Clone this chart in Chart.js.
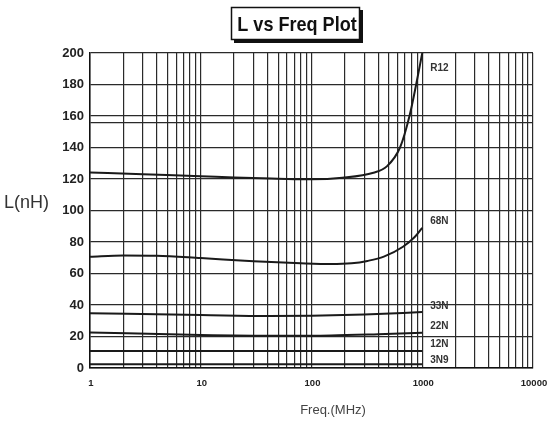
<!DOCTYPE html>
<html>
<head>
<meta charset="utf-8">
<script src="https://cdn.jsdelivr.net/npm/chart.js@4.4.1/dist/chart.umd.min.js"></script>
<style>
    html, body { margin: 0; padding: 0; background: #fff; }
    #wrap { width: 547px; height: 421px; }
</style>
</head>
<body>
<div id="wrap"><canvas id="chart" width="547" height="421"></canvas></div>
<script>
// Values (frequency in MHz, inductance in nH).
const FREQ_R12 = [1, 3, 10, 20, 50, 100, 190, 363, 479, 630, 767, 881, 1000];
const L_R12 = [124.2, 123, 121.8, 120.9, 120.2, 119.8, 120.8, 124, 128, 140, 160, 180, 200];

const FREQ_68N = [1, 2, 4, 10, 30, 80, 150, 230, 320, 450, 670, 850, 1000];
const L_68N = [70.7, 71.5, 71.3, 69.8, 67.8, 66.5, 66, 66.5, 68, 70.7, 77, 83, 89];

const FREQ_33N = [1, 10, 40, 100, 300, 1000];
const L_33N = [34.7, 33.7, 33, 33.2, 34, 35.5];

const FREQ_22N = [1, 10, 50, 150, 400, 1000];
const L_22N = [22.6, 21, 20.5, 20.7, 21.5, 22.4];

const FREQ_12N = [1, 1000];
const L_12N = [10.8, 10.8];

const FREQ_3N9 = [1, 1000];
const L_3N9 = [2.4, 2.4];

const SERIES_NAMES = ['R12', '68N', '33N', '22N', '12N', '3N9'];
const SERIES_LABEL_L = [190.5, 92.9, 38.9, 26.7, 15.2, 5.1];   // where each tag sits, in nH

const X_LABELS = [1, 10, 100, 1000, 10000];
const Y_LABELS = [0, 20, 40, 60, 80, 100, 120, 140, 160, 180, 200];
const Y_EXTRA_GRID = [156];   // stray ruling on the original sheet

// log paper rulings: 1..9 in every decade, then the closing 10000
const X_GRID = [];
for (let d = 1; d < 10000; d *= 10) {
    for (let m = 1; m < 10; m++) X_GRID.push(d * m);
}
X_GRID.push(10000);

function pts(xs, ys) {
    return xs.map((x, i) => ({ x, y: ys[i] }));
}

const curves = [
    pts(FREQ_R12, L_R12), pts(FREQ_68N, L_68N), pts(FREQ_33N, L_33N),
    pts(FREQ_22N, L_22N), pts(FREQ_12N, L_12N), pts(FREQ_3N9, L_3N9),
];

const FONT = '"Liberation Sans", Arial, sans-serif';

// Title box, free-standing axis titles and the curve tags.
const decorations = {
    id: 'decorations',
    afterDraw(chart) {
        const ctx = chart.ctx;
        const xs = chart.scales.x, ys = chart.scales.y;
        ctx.save();

        // title box with drop shadow
        ctx.fillStyle = '#111';
        ctx.fillRect(234, 10, 129, 33);
        ctx.fillStyle = '#fff';
        ctx.fillRect(231, 7, 129, 33);
        ctx.strokeStyle = '#111';
        ctx.lineWidth = 1.5;
        ctx.strokeRect(231.5, 7.5, 128, 32);

        ctx.save();
        ctx.translate(297, 25);
        ctx.scale(0.86, 1);
        ctx.fillStyle = '#111';
        ctx.font = 'bold 21px ' + FONT;
        ctx.textAlign = 'center';
        ctx.textBaseline = 'middle';
        ctx.fillText('L vs Freq Plot', 0, 0);
        ctx.restore();

        // y title, horizontal
        ctx.fillStyle = '#333';
        ctx.font = '18px ' + FONT;
        ctx.textAlign = 'left';
        ctx.textBaseline = 'middle';
        ctx.fillText('L(nH)', 4, 203);

        // x title
        ctx.fillStyle = '#444';
        ctx.font = '13px ' + FONT;
        ctx.textAlign = 'center';
        ctx.fillText('Freq.(MHz)', 333, 410);

        // curve tags just right of the 1000 MHz ruling
        ctx.fillStyle = '#333';
        ctx.font = 'bold 10px ' + FONT;
        ctx.textAlign = 'left';
        const tx = xs.getPixelForValue(1000) + 8;
        SERIES_NAMES.forEach((name, i) => {
            ctx.fillText(name, tx, ys.getPixelForValue(SERIES_LABEL_L[i]));
        });

        ctx.restore();
    },
};

new Chart(document.getElementById('chart').getContext('2d'), {
    type: 'line',
    data: {
        datasets: curves.map((data, i) => ({
            label: SERIES_NAMES[i],
            data,
            borderColor: '#1a1a1a',
            backgroundColor: 'transparent',
            borderWidth: 2,
            pointRadius: 0,
            cubicInterpolationMode: 'monotone',
        })),
    },
    options: {
        responsive: false,
        animation: false,
        parsing: false,
        layout: { padding: { top: 53, right: 14, left: 0, bottom: 0 } },
        plugins: { legend: { display: false }, tooltip: { enabled: false } },
        scales: {
            x: {
                type: 'logarithmic',
                min: 1,
                max: 10000,
                afterBuildTicks(scale) {
                    scale.ticks = X_GRID.map((v) => ({ value: v }));
                },
                afterFit(scale) {
                    scale.height = 53;
                    scale.paddingLeft = 0;
                    scale.paddingRight = 0;
                },
                grid: { color: '#2a2a2a', lineWidth: 1.2, drawTicks: false },
                border: { color: '#111', width: 1.5 },
                ticks: {
                    autoSkip: false,
                    maxRotation: 0,
                    padding: 10,
                    labelOffset: 1,
                    color: '#222',
                    font: { family: FONT, size: 9.5, weight: 'bold' },
                    callback: (v) => (X_LABELS.includes(v) ? String(v) : ''),
                },
            },
            y: {
                type: 'linear',
                min: 0,
                max: 200,
                afterBuildTicks(scale) {
                    scale.ticks = Y_LABELS.concat(Y_EXTRA_GRID)
                        .sort((a, b) => a - b)
                        .map((v) => ({ value: v }));
                },
                afterFit(scale) {
                    scale.width = 90;
                    scale.paddingTop = 0;
                    scale.paddingBottom = 0;
                },
                grid: { color: '#2a2a2a', lineWidth: 1.2, drawTicks: false },
                border: { color: '#111', width: 1.5 },
                ticks: {
                    padding: 6,
                    color: '#222',
                    font: { family: FONT, size: 13, weight: 'bold' },
                    callback: (v) => (Y_LABELS.includes(v) ? String(v) : ''),
                },
            },
        },
    },
    plugins: [decorations],
});
</script>
</body>
</html>
